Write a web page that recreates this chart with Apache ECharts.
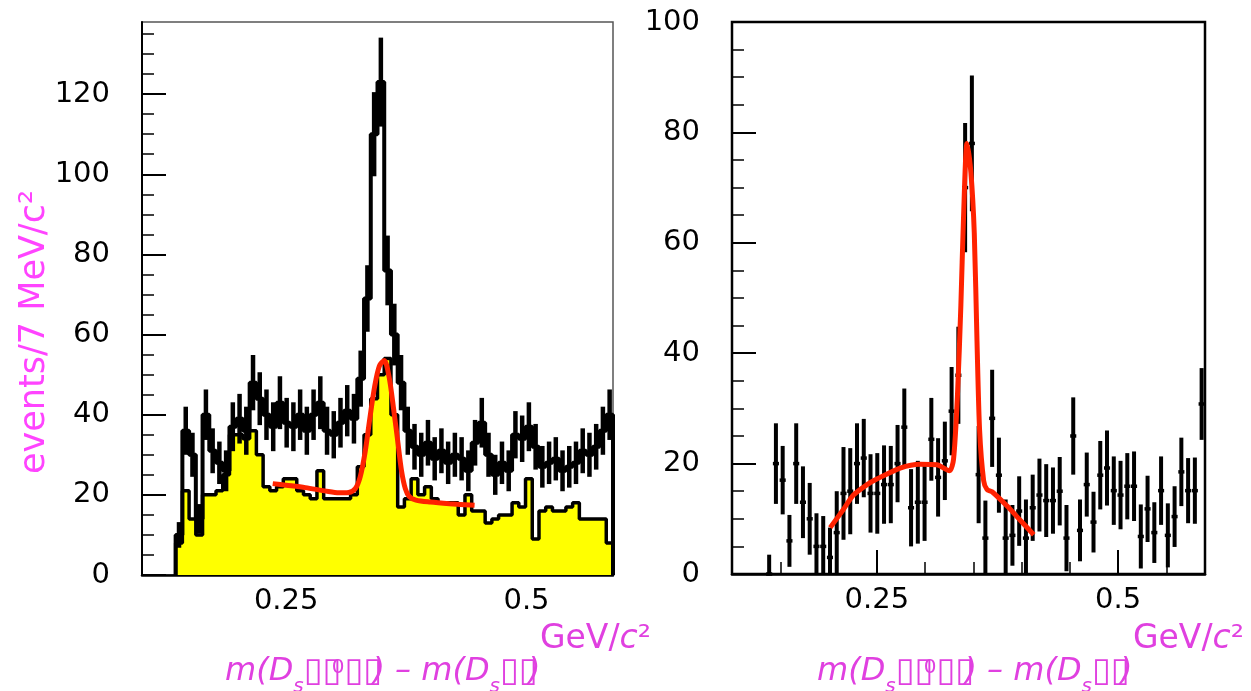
<!DOCTYPE html>
<html><head><meta charset="utf-8">
<script src="https://cdn.jsdelivr.net/npm/echarts@6/dist/echarts.min.js"></script>
<style>html,body{margin:0;padding:0;background:#fff}#c{width:1251px;height:691px}</style>
</head><body><div id="c"></div>
<script>
// bins: 7 MeV wide, first filled bin starts at 0.135 GeV
const binStart = 0.135;
const binWidth = 0.007;
const xMin = 0.1, xMax = 0.59;
// left panel: total (black, with errors) and sideband (yellow)
const leftTotal = [10,36,30,14,40,31,28,26,37,39,36,48,44,40,37,43,38,37,40,36,40,43,36,35,38,41,39,49,69,110,123,76,60,48,36,32,30,33,29,31,28,30,29,26,33,38,30,25,28,26,35,34,37,32,27,28,29,26,27,28,31,30,32,36,40];
const leftTotalErr = [3.2,6,5.5,3.7,6.3,5.6,5.3,5.1,6.1,6.2,6,6.9,6.6,6.3,6.1,6.6,6.2,6.1,6.3,6,6.3,6.6,6,5.9,6.2,6.4,6.2,7,8.3,10.5,11.1,8.7,7.7,6.9,6,5.7,5.5,5.7,5.4,5.6,5.3,5.5,5.4,5.1,5.7,6.2,5.5,5,5.3,5.1,5.9,5.8,6.1,5.7,5.2,5.3,5.4,5.1,5.2,5.3,5.6,5.5,5.7,6,6.3];
const leftSideband = [8,21,14,10,20,20,21,25,35,35,34,36,30,22,21,22,24,24,21,20,19,26,19,19,19,19,20,27,35,44,50,54,40,17,19,24,20,22,19,18,18,18,15,20,16,16,13,14,15,15,18,17,24,9,16,17,16,16,17,18,14,14,14,14,8];
// right panel: subtracted data points with errors
const rightVal = [0,20,17,6,20,13,10,5,5,3,7.5,14.6,15,20,21,14.6,14.6,16.2,16.2,20,26.6,12,13,13,24.4,17.5,20.5,29.5,36,70,78,18,6.5,28.2,17.9,6.5,7,11.4,6.5,12,14.3,13.3,13.3,15,6.5,25,7.9,16.2,9.4,17.9,19.2,15.1,14.3,15.9,15.9,6.8,11.8,7.5,15.1,7,10.4,18.5,15.1,15.1,30.8];
const rightErr = [3.5,7.3,6.2,4.7,7.3,6.5,6.5,6,5.5,5.4,7.5,8.4,7.8,7.3,7.1,7.1,7.3,7.1,7,7,7,7,7.5,7,7.5,7.1,7.1,8,8.8,11.7,12.3,8.8,6.8,8.8,6.8,7,5.5,6.3,7,6,6.6,6.6,6,6.2,6,7,5.6,5.8,5.5,6.2,6.8,6.2,6.2,6,6.3,5.8,6,5.5,6.2,5.8,5.5,6.2,5.9,6,6.5];
// fit curves
const leftFitX = [0.236,0.25,0.27,0.29,0.305,0.315,0.322,0.327,0.332,0.337,0.342,0.347,0.352,0.357,0.362,0.366,0.370,0.374,0.378,0.385,0.40,0.42,0.446];
const leftFitY = [22.8,22.4,21.8,21.0,20.5,20.6,21.6,24.5,30.5,39,47,52.2,53.5,49.5,41,33.5,26,21.5,19.6,18.7,18.2,17.8,17.4];
const rightFitX = [0.2017,0.215,0.2258,0.24,0.25,0.2742,0.2949,0.3122,0.3253,0.3295,0.3336,0.3371,0.3398,0.3434,0.3475,0.351,0.3538,0.3565,0.3607,0.3642,0.3694,0.385,0.3988,0.4126];
const rightFitY = [8.4,11.6,14.3,16.2,17.2,19.2,19.9,19.8,18.7,20.8,32.5,48.7,64.3,78,72.7,61.7,42.2,26,16.9,15.3,14.9,12.3,9.7,7.1];
// ticks
const xMajorTicks = [0.25, 0.5];
const xMinorTicks = [0.15,0.2,0.25,0.3,0.35,0.4,0.45,0.5,0.55];
const leftYMajor = [0,20,40,60,80,100,120];
const leftYMinor = [5,10,15,25,30,35,45,50,55,65,70,75,85,90,95,105,110,115,125,130,135];
const rightYMajor = [0,20,40,60,80,100];
const rightYMinor = [5,10,15,25,30,35,45,50,55,65,70,75,85,90,95];
const leftYMax = 138, rightYMax = 100;

const pink = '#ff44ff', magenta = '#e040e0';
const labelFont = {fontFamily:'DejaVu Sans', fontSize:29, color:'#000'};

function stepData(vals){
  const d = [[binStart, 0]];
  vals.forEach((v,i)=>d.push([binStart + i*binWidth, v]));
  const end = binStart + vals.length*binWidth;
  d.push([end, vals[vals.length-1]]);
  d.push([end, 0]);
  return d;
}
function pointData(vals, errs){
  return vals.map((v,i)=>[binStart + (i+0.5)*binWidth, v, errs[i]]);
}
function errRender(withH, w){
  return function(params, api){
    const x = api.value(0), y = api.value(1), e = api.value(2);
    const p1 = api.coord([x, Math.max(y-e, 0)]);
    const p2 = api.coord([x, y+e]);
    const ch = [{type:'line', shape:{x1:p1[0], y1:p1[1], x2:p2[0], y2:p2[1]}, style:{stroke:'#000', lineWidth:w}}];
    if (withH){
      const a = api.coord([x - binWidth*0.45, y]), b = api.coord([x + binWidth*0.45, y]);
      ch.push({type:'line', shape:{x1:a[0], y1:a[1], x2:b[0], y2:b[1]}, style:{stroke:'#000', lineWidth:3.5}});
    }
    return {type:'group', children:ch};
  };
}
function xAxes(gi){
  return [
    {type:'value', gridIndex:gi, min:xMin, max:xMax, position:'bottom',
     axisLine:{show:true, onZero:false, lineStyle:{color:'#000', width:2.5}},
     axisTick:{show:true, inside:true, length:12, customValues:xMinorTicks, lineStyle:{color:'#000', width:1.5}},
     axisLabel:{show:false}, splitLine:{show:false}},
    {type:'value', gridIndex:gi, min:xMin, max:xMax, position:'bottom',
     axisLine:{show:false, onZero:false},
     axisTick:{show:true, inside:true, length:24, customValues:xMajorTicks, lineStyle:{color:'#000', width:2}},
     axisLabel:Object.assign({show:true, customValues:xMajorTicks, margin:12, formatter:v=>String(v)}, labelFont),
     splitLine:{show:false}}
  ];
}
function yAxes(gi, max, major, minor){
  return [
    {type:'value', gridIndex:gi, min:0, max:max, position:'left',
     axisLine:{show:true, onZero:false, lineStyle:{color:'#000', width:2}},
     axisTick:{show:true, inside:true, length:24, customValues:major, lineStyle:{color:'#000', width:2}},
     axisLabel:Object.assign({show:true, customValues:major, margin:32}, labelFont),
     splitLine:{show:false}},
    {type:'value', gridIndex:gi, min:0, max:max, position:'left',
     axisLine:{show:false, onZero:false},
     axisTick:{show:true, inside:true, length:12, customValues:minor, lineStyle:{color:'#000', width:1.5}},
     axisLabel:{show:false}, splitLine:{show:false}}
  ];
}

const formulaRich = {
  a:{font:'italic 32px "DejaVu Sans"', fill:magenta, lineHeight:50},
  s:{font:'italic 20px "DejaVu Sans"', fill:magenta, lineHeight:20, verticalAlign:'bottom'},
  p:{font:'20px "DejaVu Sans"', fill:magenta, lineHeight:20, verticalAlign:'top', padding:[11,0,0,0]},
  b:{font:'34px "DejaVu Sans"', fill:magenta, lineHeight:50, width:28}
};
const formulaText = '{a|m(D}{s|s}{b|▯▯}{p|0}{b|▯▯}{a|) – m(D}{s|s}{b|▯▯}{a|)}';
const unitRich = {
  n:{font:'33px "DejaVu Sans"', fill:magenta},
  i:{font:'italic 33px "DejaVu Sans"', fill:magenta}
};
const unitText = '{n|GeV/}{i|c}{n|²}';

const chart = echarts.init(document.getElementById('c'), null, {renderer:'canvas'});
chart.setOption({
  animation:false,
  backgroundColor:'#fff',
  grid:[
    {left:142, top:22, width:471, height:553, show:true, borderColor:'#555', borderWidth:1.5, containLabel:false},
    {left:732, top:22, width:473, height:552, show:true, borderColor:'#000', borderWidth:2.5, containLabel:false}
  ],
  xAxis:[...xAxes(0), ...xAxes(1)],
  yAxis:[...yAxes(0, leftYMax, leftYMajor, leftYMinor), ...yAxes(1, rightYMax, rightYMajor, rightYMinor)],
  series:[
    {type:'line', name:'sideband', xAxisIndex:0, yAxisIndex:0, data:stepData(leftSideband), step:'end', symbol:'none',
     lineStyle:{color:'#000', width:3.5}, areaStyle:{color:'#ffff00', opacity:1}, z:2},
    {type:'line', name:'total', xAxisIndex:0, yAxisIndex:0, data:stepData(leftTotal), step:'end', symbol:'none',
     lineStyle:{color:'#000', width:4}, z:3},
    {type:'custom', name:'total errors', xAxisIndex:0, yAxisIndex:0, data:pointData(leftTotal, leftTotalErr), renderItem:errRender(false, 4.5), z:3},
    {type:'line', name:'fit left', xAxisIndex:0, yAxisIndex:0, data:leftFitX.map((x,i)=>[x, leftFitY[i]]), smooth:0.3, symbol:'none',
     lineStyle:{color:'#ff2200', width:5}, z:5},
    {type:'custom', name:'data right', xAxisIndex:2, yAxisIndex:2, data:pointData(rightVal, rightErr), renderItem:errRender(true, 4), z:3},
    {type:'line', name:'fit right', xAxisIndex:2, yAxisIndex:2, data:rightFitX.map((x,i)=>[x, rightFitY[i]]), smooth:0.25, symbol:'none',
     lineStyle:{color:'#ff2200', width:5}, z:5}
  ],
  graphic:[
    {type:'text', x:35, y:332, rotation:Math.PI/2, style:{text:'events/7 MeV/c²', font:'35px "DejaVu Sans"', fill:pink, align:'center', verticalAlign:'middle'}},
    {type:'text', x:540, y:639, style:{text:unitText, rich:unitRich, align:'left', verticalAlign:'middle'}},
    {type:'text', x:1133, y:639, style:{text:unitText, rich:unitRich, align:'left', verticalAlign:'middle'}},
    {type:'text', x:225, y:672, style:{text:formulaText, rich:formulaRich, align:'left', verticalAlign:'middle'}},
    {type:'text', x:817, y:672, style:{text:formulaText, rich:formulaRich, align:'left', verticalAlign:'middle'}}
  ]
});
</script></body></html>
